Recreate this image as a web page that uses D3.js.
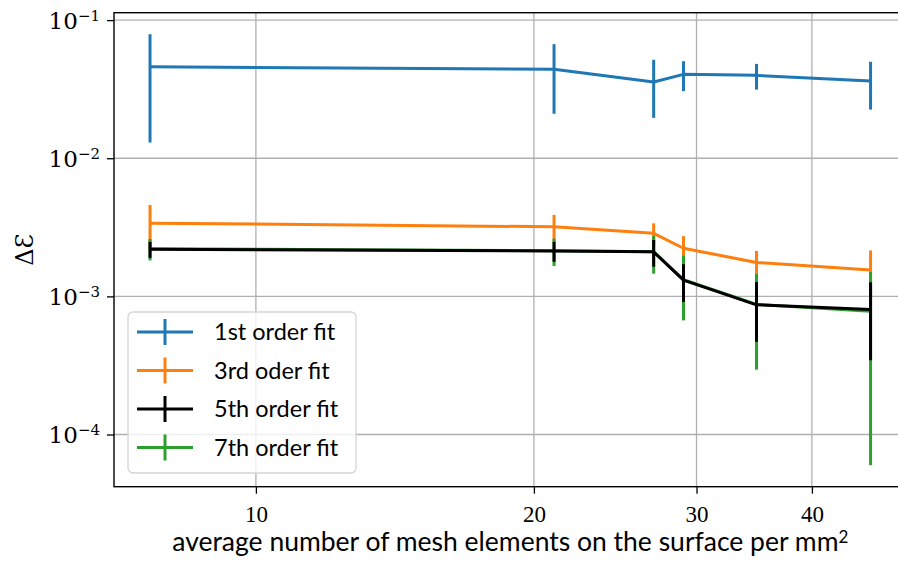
<!DOCTYPE html>
<html>
<head>
<meta charset="utf-8">
<script src="https://cdn.jsdelivr.net/npm/d3@7"></script>
<style>
  html, body { margin: 0; padding: 0; background: #fff; }
  svg { display: block; }
</style>
</head>
<body>
<svg id="chart" width="898" height="572"></svg>
<script>
// Mesh density (elements per mm^2) for each run
const density = [7.68, 21.03, 26.96, 29.04, 34.84, 46.3];

// Mean error and symmetric spread for each polynomial fit order
const fit1Mean = [0.0460, 0.0440, 0.0356, 0.0405, 0.0398, 0.0362];
const fit1Err  = [0.0330, 0.0230, 0.0160, 0.0099, 0.0084, 0.0137];
const fit3Mean = [0.00339, 0.00319, 0.00286, 0.00223, 0.00176, 0.00155];
const fit3Err  = [0.00120, 0.00070, 0.00052, 0.00050, 0.00037, 0.00060];
const fit5Mean = [0.00219, 0.00213, 0.00210, 0.00131, 0.000869, 0.000805];
const fit5Err  = [0.00029, 0.00035, 0.00046, 0.00040, 0.00040, 0.00046];
const fit7Mean = [0.00221, 0.00214, 0.00210, 0.00132, 0.000875, 0.000780];
const fit7Err  = [0.00039, 0.00048, 0.00064, 0.00065, 0.00058, 0.00072];

const seriesNames = ["1st order fit", "3rd oder fit", "5th order fit", "7th order fit"];
const seriesColors = ["#1f77b4", "#ff7f0e", "#000000", "#2ca02c"];

const xTicks = [10, 20, 30, 40];
const yTicks = [1e-1, 1e-2, 1e-3, 1e-4];
const yTickExp = ["−1", "−2", "−3", "−4"];

const series = [
  { name: seriesNames[0], color: seriesColors[0], mean: fit1Mean, err: fit1Err },
  { name: seriesNames[1], color: seriesColors[1], mean: fit3Mean, err: fit3Err },
  { name: seriesNames[2], color: seriesColors[2], mean: fit5Mean, err: fit5Err },
  { name: seriesNames[3], color: seriesColors[3], mean: fit7Mean, err: fit7Err }
];
// 7th order is painted underneath the 5th order curve
const paintOrder = [0, 1, 3, 2];

const svg = d3.select("#chart");
const plot = { left: 114, top: 12.7, bottom: 486.7 };

// log-space padding of 5% around the data extent
function padLog(lo, hi) {
  const a = Math.log10(lo), b = Math.log10(hi), p = (b - a) * 0.05;
  return [Math.pow(10, a - p), Math.pow(10, b + p)];
}
const allLo = d3.min(series, s => d3.min(s.mean, (m, i) => m - s.err[i]));
const allHi = d3.max(series, s => d3.max(s.mean, (m, i) => m + s.err[i]));
const yDomain = padLog(allLo, allHi);
const xDomain = padLog(d3.min(density), d3.max(density));

const decadeX = 923.5;
plot.right = plot.left + decadeX * Math.log10(xDomain[1] / xDomain[0]);

const x = d3.scaleLog().domain(xDomain).range([plot.left, plot.right]);
const y = d3.scaleLog().domain(yDomain).range([plot.bottom, plot.top]);

const gridColor = "#b0b0b0";

// grid
const grid = svg.append("g");
grid.selectAll(".gx").data(xTicks).join("line")
  .attr("x1", d => x(d)).attr("x2", d => x(d))
  .attr("y1", plot.top).attr("y2", plot.bottom)
  .attr("stroke", gridColor).attr("stroke-width", 1.3);
grid.selectAll(".gy").data(yTicks).join("line")
  .attr("x1", plot.left).attr("x2", plot.right)
  .attr("y1", d => y(d)).attr("y2", d => y(d))
  .attr("stroke", gridColor).attr("stroke-width", 1.3);

// series: lines and vertical error bars
const line = d3.line().x((d, i) => x(density[i])).y(d => y(d));
paintOrder.forEach(k => {
  const s = series[k];
  const g = svg.append("g");
  g.append("path").datum(s.mean)
    .attr("d", line).attr("fill", "none")
    .attr("stroke", s.color).attr("stroke-width", 3)
    .attr("stroke-linejoin", "round");
  g.selectAll("line").data(s.mean).join("line")
    .attr("x1", (d, i) => x(density[i])).attr("x2", (d, i) => x(density[i]))
    .attr("y1", (d, i) => y(d + s.err[i]))
    .attr("y2", (d, i) => y(Math.max(d - s.err[i], yDomain[0] * 0.5)))
    .attr("stroke", s.color).attr("stroke-width", 3);
});

// axes
const xAxis = d3.axisBottom(x).tickValues(xTicks).tickFormat(d3.format("d"))
  .tickSize(7).tickPadding(12);
const gx = svg.append("g").attr("transform", `translate(0,${plot.bottom})`).call(xAxis);
gx.select(".domain").remove();
gx.selectAll(".tick line").attr("stroke", "#000").attr("stroke-width", 1.3);
gx.selectAll(".tick text")
  .attr("font-family", "'Liberation Serif', serif").attr("font-size", 23).attr("fill", "#000");

const yAxis = d3.axisLeft(y).tickValues(yTicks).tickFormat(() => "").tickSize(7);
const gy = svg.append("g").attr("transform", `translate(${plot.left},0)`).call(yAxis);
gy.select(".domain").remove();
gy.selectAll(".tick line").attr("stroke", "#000").attr("stroke-width", 1.3);
gy.selectAll(".tick").each(function (d, i) {
  const t = d3.select(this).append("text")
    .attr("x", -14).attr("dy", "0.36em").attr("text-anchor", "end")
    .attr("font-family", "'DejaVu Serif', serif").attr("font-size", 23).attr("fill", "#000");
  t.append("tspan").text("10");
  t.append("tspan").attr("dy", "-0.55em").attr("font-size", 15).text(yTickExp[i]);
});

// frame
svg.append("rect")
  .attr("x", plot.left).attr("y", plot.top)
  .attr("width", plot.right - plot.left).attr("height", plot.bottom - plot.top)
  .attr("fill", "none").attr("stroke", "#000").attr("stroke-width", 1.4);

// axis titles
const xt = svg.append("text")
  .attr("x", (plot.left + plot.right) / 2).attr("y", 551)
  .attr("text-anchor", "middle")
  .attr("font-family", "Lato, sans-serif").attr("font-size", 26.5).attr("fill", "#000");
xt.append("tspan").text("average number of mesh elements on the surface per mm");
xt.append("tspan").attr("dy", "-0.45em").attr("font-size", 17).text("2");

svg.append("text")
  .attr("transform", `translate(33,${(plot.top + plot.bottom) / 2}) rotate(-90)`)
  .attr("text-anchor", "middle")
  .attr("font-family", "'DejaVu Serif', serif").attr("font-size", 24)
  .attr("fill", "#000")
  .text("ΔƐ");

// legend
const lg = svg.append("g").attr("transform", "translate(128,312)");
lg.append("rect").attr("width", 228).attr("height", 161).attr("rx", 5)
  .attr("fill", "#fff").attr("fill-opacity", 0.8)
  .attr("stroke", "#d5d5d5").attr("stroke-width", 1.3);
series.forEach((s, i) => {
  const row = lg.append("g").attr("transform", `translate(0,${20 + i * 38.5})`);
  row.append("line").attr("x1", 9).attr("x2", 65).attr("y1", 0).attr("y2", 0)
    .attr("stroke", s.color).attr("stroke-width", 3);
  row.append("line").attr("x1", 37).attr("x2", 37).attr("y1", -13).attr("y2", 13)
    .attr("stroke", s.color).attr("stroke-width", 3);
  row.append("text").attr("x", 86).attr("dy", "0.35em")
    .attr("font-family", "Lato, sans-serif").attr("font-size", 23.5).attr("fill", "#000")
    .text(s.name);
});
</script>
</body>
</html>
